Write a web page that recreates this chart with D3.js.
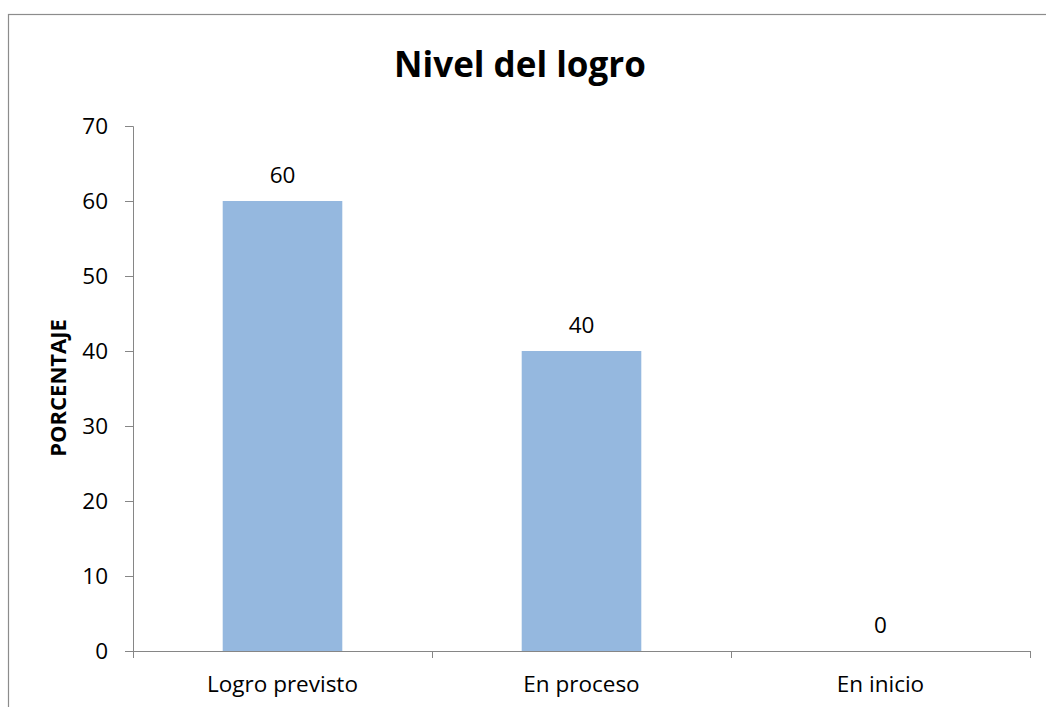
<!DOCTYPE html>
<html><head><meta charset="utf-8">
<script src="https://cdn.jsdelivr.net/npm/d3@7"></script>
<style>body{margin:0;background:#fff}svg{display:block}</style>
</head><body>
<script>
const categories = ["Logro previsto", "En proceso", "En inicio"];
const values = [60, 40, 0];
const yTicks = [0, 10, 20, 30, 40, 50, 60, 70];
const title = "Nivel del logro";
const yLabel = "PORCENTAJE";

const W = 1046, H = 707;
const font = "'Open Sans', 'Liberation Sans', sans-serif";
const svg = d3.select("body").append("svg").attr("width", W).attr("height", H);

svg.append("rect").attr("x", 8.5).attr("y", 14.5).attr("width", 1100).attr("height", 800)
  .attr("fill", "#fff").attr("stroke", "#8c8c8c").attr("stroke-width", 1.2);

const m = {left: 133, right: 1030, top: 126, bottom: 651};
const x = d3.scaleBand().domain(categories).range([m.left, m.right]).paddingInner(0.6).paddingOuter(0.3);
const y = d3.scaleLinear().domain([0, 70]).range([m.bottom, m.top]);

// y axis
const ya = svg.append("g").attr("transform", `translate(${m.left},0)`)
  .call(d3.axisLeft(y).tickValues(yTicks).tickSize(8).tickPadding(17));
ya.select(".domain").attr("stroke", "#868686");
ya.selectAll(".tick line").attr("stroke", "#868686");
ya.selectAll("text").attr("font-family", font).attr("font-size", 22.5).attr("fill", "#000");

// bars
svg.selectAll("rect.bar").data(values).enter().append("rect").attr("class", "bar")
  .attr("x", (d, i) => x(categories[i])).attr("width", x.bandwidth())
  .attr("y", d => y(d)).attr("height", d => y(0) - y(d)).attr("fill", "#95B8DF");

// x axis
const xb = d3.scaleLinear().domain([0, categories.length]).range([m.left, m.right]);
const xa = svg.append("g").attr("transform", `translate(0,${m.bottom})`)
  .call(d3.axisBottom(xb).tickValues(d3.range(categories.length + 1)).tickSize(7).tickFormat(""));
xa.select(".domain").attr("stroke", "#868686");
xa.selectAll(".tick line").attr("stroke", "#868686");

svg.selectAll("text.cat").data(categories).enter().append("text").attr("class", "cat")
  .attr("x", d => x(d) + x.bandwidth() / 2).attr("y", 692)
  .attr("text-anchor", "middle").attr("font-family", font).attr("font-size", 22.5).text(d => d);

// data labels
svg.selectAll("text.val").data(values).enter().append("text").attr("class", "val")
  .attr("x", (d, i) => x(categories[i]) + x.bandwidth() / 2).attr("y", d => y(d) - 18)
  .attr("text-anchor", "middle").attr("font-family", font).attr("font-size", 22.5).text(d => d);

svg.append("text").attr("x", 520).attr("y", 77).attr("text-anchor", "middle")
  .attr("font-family", font).attr("font-weight", "bold").attr("font-size", 35).text(title);

svg.append("text").attr("transform", "translate(66,388) rotate(-90)").attr("text-anchor", "middle")
  .attr("font-family", font).attr("font-weight", "bold").attr("font-size", 22).text(yLabel);
</script>
</body></html>
